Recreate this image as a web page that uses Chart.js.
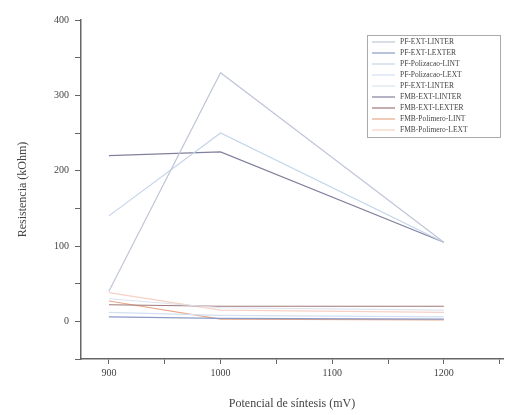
<!DOCTYPE html>
<html>
<head>
<meta charset="utf-8">
<script src="https://cdn.jsdelivr.net/npm/chart.js@4"></script>
<style>
  html, body { margin: 0; padding: 0; background: #fff; }
  #wrap { width: 505px; height: 415px; }
</style>
</head>
<body>
<div id="wrap"><canvas id="chart" width="505" height="415"></canvas></div>
<script>
// x values (mV)
const potencial = [900, 1000, 1200];

const labels = [
    'PF-EXT-LINTER',
    'PF-EXT-LEXTER',
    'PF-Polizacao-LINT',
    'PF-Polizacao-LEXT',
    'PF-EXT-LINTER',
    'FMB-EXT-LINTER',
    'FMB-EXT-LEXTER',
    'FMB-Polimero-LINT',
    'FMB-Polimero-LEXT'
];

const pfExtLinter = [40, 330, 105];
const pfExtLexter = [6, 4, 3];
const pfPolLint = [140, 250, 105];
const pfPolLext = [12, 8, 6];
const pfExtLinter2 = [30, 18, 15];
const fmbExtLinter = [220, 225, 105];
const fmbExtLexter = [22, 20, 20];
const fmbPolLint = [27, 3, 2];
const fmbPolLext = [38, 15, 12];

const seriesValues = [pfExtLinter, pfExtLexter, pfPolLint, pfPolLext, pfExtLinter2,
    fmbExtLinter, fmbExtLexter, fmbPolLint, fmbPolLext];
const colors = ['#c0c6d8', '#8c9ac8', '#c4d4ea', '#d2e0f2', '#dce2ee',
    '#80809e', '#a07878', '#e8a888', '#f6d0c4'];

const datasets = seriesValues.map(function(vals, i) {
    return {
        label: labels[i],
        data: vals.map(function(v, j) { return { x: potencial[j], y: v }; }),
        borderColor: colors[i],
        borderWidth: 1.2,
        pointRadius: 0,
        fill: false,
        tension: 0
    };
});

const serif = '"Liberation Serif", "DejaVu Serif", serif';

// legend box drawn inside the plot
const boxLegend = {
    id: 'boxLegend',
    afterDraw(chart) {
        const ctx = chart.ctx;
        const x0 = 367, y0 = 35, w = 133, h = 102;
        ctx.save();
        ctx.fillStyle = '#fff';
        ctx.fillRect(x0, y0, w, h);
        ctx.strokeStyle = '#aaa';
        ctx.lineWidth = 1;
        ctx.strokeRect(x0 + 0.5, y0 + 0.5, w, h);
        ctx.font = '7.5px ' + serif;
        ctx.textBaseline = 'middle';
        chart.data.datasets.forEach(function(ds, i) {
            const y = y0 + 7 + i * 11;
            ctx.strokeStyle = ds.borderColor;
            ctx.lineWidth = 1.2;
            ctx.beginPath();
            ctx.moveTo(x0 + 5, y);
            ctx.lineTo(x0 + 28, y);
            ctx.stroke();
            ctx.fillStyle = '#444';
            ctx.fillText(ds.label, x0 + 33, y);
        });
        ctx.restore();
    }
};

new Chart(document.getElementById('chart').getContext('2d'), {
    type: 'line',
    data: { datasets: datasets },
    options: {
        responsive: false,
        animation: false,
        layout: { padding: { top: 20, right: 2, left: 16, bottom: 0 } },
        plugins: { legend: { display: false }, tooltip: { enabled: false } },
        scales: {
            x: {
                type: 'linear',
                min: 875,
                max: 1253,
                afterBuildTicks: function(scale) {
                    scale.ticks = [900, 950, 1000, 1050, 1100, 1150, 1200, 1250].map(function(v) { return { value: v }; });
                },
                afterFit: function(scale) { scale.height = 56; },
                border: { color: '#666', width: 1.5 },
                grid: {
                    drawOnChartArea: false,
                    tickLength: 5,
                    tickColor: '#666'
                },
                ticks: {
                    autoSkip: false,
                    maxRotation: 0,
                    color: '#444',
                    font: { family: serif, size: 10 },
                    padding: 3,
                    callback: function(v) { return v % 100 === 0 ? v : ''; }
                },
                title: {
                    display: true,
                    text: 'Potencial de síntesis (mV)',
                    color: '#444',
                    font: { family: serif, size: 12 },
                    padding: { top: 4 }
                }
            },
            y: {
                type: 'linear',
                min: -50,
                max: 400,
                afterBuildTicks: function(scale) {
                    scale.ticks = [-50, 0, 50, 100, 150, 200, 250, 300, 350, 400].map(function(v) { return { value: v }; });
                },
                afterFit: function(scale) { scale.width = 65; },
                border: { color: '#666', width: 1.5 },
                grid: {
                    drawOnChartArea: false,
                    tickLength: 6,
                    tickColor: '#666'
                },
                ticks: {
                    autoSkip: false,
                    color: '#444',
                    font: { family: serif, size: 10 },
                    padding: 6,
                    callback: function(v) { return v % 100 === 0 ? v : ''; }
                },
                title: {
                    display: true,
                    text: 'Resistencia (kOhm)',
                    color: '#444',
                    font: { family: serif, size: 12 },
                    padding: { top: 0, bottom: 0 }
                }
            }
        }
    },
    plugins: [boxLegend]
});
</script>
</body>
</html>
